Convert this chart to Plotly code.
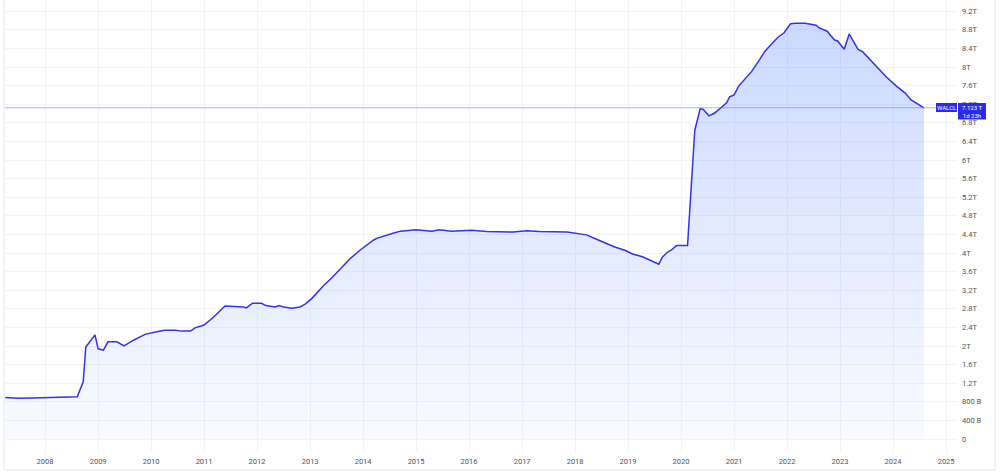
import plotly.graph_objects as go

# ---- data (WALCL, trillions USD) ----
dates = [
    "2007-04-01", "2007-07-01", "2007-10-01", "2008-01-01", "2008-04-01", "2008-07-01",
    "2008-08-10", "2008-09-20", "2008-10-08", "2008-12-10", "2009-01-01", "2009-02-06",
    "2009-03-10", "2009-05-10", "2009-06-28", "2009-09-05", "2009-11-20", "2010-01-30",
    "2010-04-05", "2010-06-15", "2010-08-01", "2010-10-01", "2010-10-30", "2011-01-01",
    "2011-03-10", "2011-05-25", "2011-10-01", "2011-10-20", "2011-12-01", "2012-02-01",
    "2012-03-01", "2012-05-05", "2012-06-01", "2012-07-01", "2012-08-28", "2012-10-22",
    "2012-11-28", "2013-01-15", "2013-04-01", "2013-06-03", "2013-08-08", "2013-10-01",
    "2013-12-10", "2014-03-15", "2014-04-10", "2014-07-01", "2014-08-01", "2014-09-15",
    "2014-11-15", "2015-01-01", "2015-04-20", "2015-06-10", "2015-09-01", "2015-12-01",
    "2016-01-20", "2016-05-01", "2016-08-15", "2016-10-30", "2017-02-01", "2017-05-01",
    "2017-11-05", "2018-02-01", "2018-03-20", "2018-05-25", "2018-08-01", "2018-10-01",
    "2018-12-10", "2019-02-01", "2019-04-10", "2019-06-01", "2019-08-01", "2019-08-25",
    "2019-10-01", "2019-10-25", "2019-12-01", "2020-01-30", "2020-02-15", "2020-04-05",
    "2020-05-12", "2020-06-01", "2020-07-12", "2020-08-20", "2020-10-22", "2020-11-10",
    "2020-12-01", "2021-01-01", "2021-02-01", "2021-04-05", "2021-05-01", "2021-06-20",
    "2021-08-01", "2021-10-30", "2021-12-10", "2022-01-25", "2022-02-25", "2022-05-05",
    "2022-07-20", "2022-08-10", "2022-10-05", "2022-10-25", "2022-11-25", "2022-12-15",
    "2023-01-30", "2023-03-05", "2023-05-05", "2023-06-05", "2023-09-10", "2023-11-18",
    "2024-01-25", "2024-03-25", "2024-05-05", "2024-06-03", "2024-08-01",
]
values = [
    0.89, 0.875, 0.88, 0.89, 0.895, 0.90,
    0.91, 1.23, 1.98, 2.24, 1.94, 1.91,
    2.09, 2.09, 2.00, 2.13, 2.25, 2.30,
    2.34, 2.34, 2.32, 2.32, 2.39, 2.45,
    2.63, 2.86, 2.84, 2.82, 2.92, 2.92,
    2.87, 2.84, 2.87, 2.84, 2.81, 2.84,
    2.90, 3.03, 3.29, 3.48, 3.70, 3.87,
    4.06, 4.28, 4.32, 4.41, 4.43, 4.47,
    4.49, 4.50, 4.47, 4.50, 4.47, 4.49,
    4.49, 4.46, 4.45, 4.45, 4.48, 4.46,
    4.45, 4.41, 4.39, 4.30, 4.21, 4.13,
    4.06, 3.98, 3.92, 3.85, 3.76, 3.91,
    4.02, 4.06, 4.16, 4.16, 4.16, 6.64,
    7.10, 7.09, 6.95, 7.01, 7.18, 7.23,
    7.36, 7.40, 7.59, 7.80, 7.90, 8.13,
    8.34, 8.64, 8.73, 8.93, 8.94, 8.94,
    8.90, 8.84, 8.77, 8.69, 8.58, 8.56,
    8.38, 8.71, 8.38, 8.33, 8.00, 7.78,
    7.59, 7.44, 7.29, 7.24, 7.123,
]
last_value = 7.123
series_name = "WALCL"
last_value_text = "7.123 T"
countdown_text = "1d 23h"

y_tickvals = [0, 0.4, 0.8, 1.2, 1.6, 2.0, 2.4, 2.8, 3.2, 3.6, 4.0, 4.4, 4.8,
              5.2, 5.6, 6.0, 6.4, 6.8, 7.2, 7.6, 8.0, 8.4, 8.8, 9.2]
y_ticktext = ["0", "400 B", "800 B", "1.2T", "1.6T", "2T", "2.4T", "2.8T", "3.2T",
              "3.6T", "4T", "4.4T", "4.8T", "5.2T", "5.6T", "6T", "6.4T", "6.8T",
              "7.2T", "7.6T", "8T", "8.4T", "8.8T", "9.2T"]
x_years = list(range(2008, 2026))
x_tickvals = [f"{y}-01-01" for y in x_years]
x_ticktext = [str(y) for y in x_years]

# ---- layout geometry (pixels) ----
W, H = 1000, 473
L, R, T, B = 5, 957, 0, 453

def px(xpix):
    return (xpix - L) / (R - L)

def py(ypix):
    return (B - ypix) / (B - T)

LINE = "#3232f2"
BOX = "#2a2af5"
GRID = "#f1f3f8"
TXT = "#4e5360"

fig = go.Figure()
fig.add_trace(go.Scatter(
    x=dates, y=values, mode="lines",
    line=dict(color=LINE, width=1.5),
    fill="tozeroy",
    fillgradient=dict(type="vertical",
                      colorscale=[[0, "rgba(41,98,255,0.03)"], [1, "rgba(41,98,255,0.24)"]],
                      start=0, stop=9),
    hoverinfo="skip", showlegend=False,
))

shapes = [
    dict(type="line", xref="paper", yref="y", x0=0, x1=1, y0=last_value, y1=last_value,
         line=dict(color="rgba(100,100,255,0.5)", width=1)),
    # chart frame
    dict(type="line", xref="paper", yref="paper", x0=px(4), x1=px(4), y0=py(0), y1=py(470),
         line=dict(color="#e3e6ee", width=1)),
    dict(type="line", xref="paper", yref="paper", x0=px(4), x1=px(995), y0=py(470), y1=py(470),
         line=dict(color="#e3e6ee", width=1)),
    dict(type="line", xref="paper", yref="paper", x0=px(995), x1=px(995), y0=py(0), y1=py(470),
         line=dict(color="#e3e6ee", width=1)),
    # label boxes
    dict(type="rect", xref="paper", yref="paper", x0=px(936), x1=px(957), y0=py(112), y1=py(103),
         fillcolor=BOX, line=dict(width=0)),
    dict(type="rect", xref="paper", yref="paper", x0=px(958), x1=px(986), y0=py(119.5), y1=py(103),
         fillcolor=BOX, line=dict(width=0)),
]

annotations = [
    dict(xref="paper", yref="paper", x=px(946.5), y=py(107.5), text=series_name,
         showarrow=False, font=dict(color="white", size=6, family="Roboto"),
         xanchor="center", yanchor="middle", borderpad=0),
    dict(xref="paper", yref="paper", x=px(972), y=py(111.2),
         text=f"{last_value_text}<br>{countdown_text}",
         showarrow=False, font=dict(color="white", size=6, family="Roboto"),
         xanchor="center", yanchor="middle", borderpad=0),
]

upp = 0.4 / 18.6  # value per pixel
fig.update_layout(
    width=W, height=H,
    margin=dict(l=L, r=W - R, t=T, b=H - B),
    paper_bgcolor="white", plot_bgcolor="white",
    showlegend=False,
    shapes=shapes, annotations=annotations,
    xaxis=dict(
        type="date",
        range=["2007-03-31", "2025-03-17"],
        tickmode="array", tickvals=x_tickvals, ticktext=x_ticktext,
        showgrid=True, gridcolor=GRID, gridwidth=1,
        zeroline=False, showline=False, ticks="",
        tickfont=dict(size=7.5, color=TXT, family="Roboto"),
        ticklabelstandoff=2,
    ),
    yaxis=dict(
        side="right",
        range=[-(B - 439) * upp, (439 - T) * upp],
        tickmode="array", tickvals=y_tickvals, ticktext=y_ticktext,
        showgrid=True, gridcolor=GRID, gridwidth=1,
        zeroline=False, showline=False, ticks="",
        tickfont=dict(size=7.5, color=TXT, family="Roboto"),
        ticklabelstandoff=4,
    ),
)

fig.write_html("out.html")
